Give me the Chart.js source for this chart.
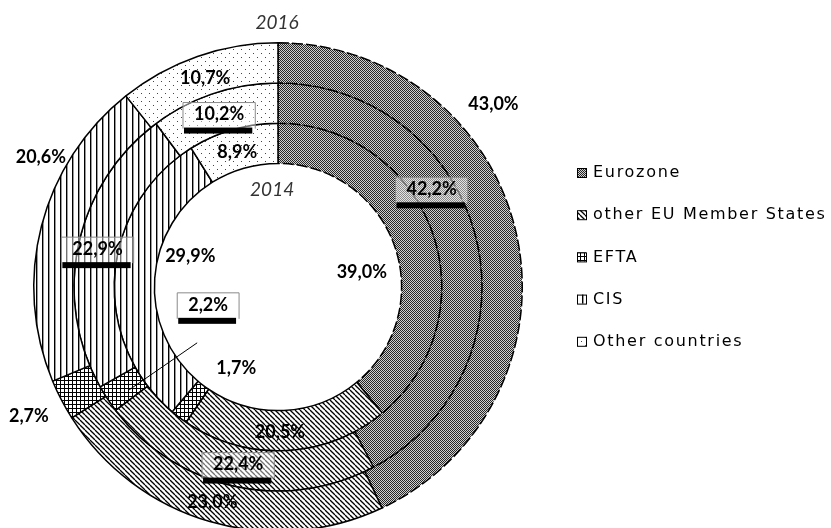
<!DOCTYPE html>
<html>
<head>
<meta charset="utf-8">
<script src="https://cdn.jsdelivr.net/npm/chart.js@4/dist/chart.umd.min.js"></script>
<style>
  html, body { margin: 0; padding: 0; background: #fff; overflow: hidden; }
  #wrap { position: relative; width: 831px; height: 540px; }
</style>
</head>
<body>
<div id="wrap"><canvas id="chart"></canvas></div>
<script>
// Values (outer ring = 2016, inner ring = 2014)
const categories = ['Eurozone', 'other EU Member States', 'EFTA', 'CIS', 'Other countries'];
const years = ['2016', '2015', '2014'];
const share2016 = [43.0, 23.0, 2.7, 20.6, 10.7];
const share2015 = [42.2, 22.4, 2.2, 22.9, 10.2];
const share2014 = [39.0, 20.5, 1.7, 29.9, 8.9];

// where the value labels sit, as offsets from the centre in units of the outer radius
const labelSpots = [
  [[0.882, -0.747], [-0.269, 0.882], [-1.020, 0.527], [-0.971, -0.531], [-0.298, -0.853]],
  [[0.629, -0.400], [-0.163, 0.727], [-0.286, 0.073], [-0.739, -0.155], [-0.241, -0.706]],
  [[0.343, -0.061], [0.008, 0.596], [-0.171, 0.331], [-0.359, -0.127], [-0.167, -0.551]]
];
const yearSpots = { '2016': [-0.004, -1.082], '2014': [-0.024, -0.396] };

/**
 * Build a small repeating canvas pattern
 */
function makePattern(w, h, draw) {
  const c = document.createElement('canvas');
  c.width = w;
  c.height = h;
  const g = c.getContext('2d');
  g.fillStyle = '#fff';
  g.fillRect(0, 0, w, h);
  draw(g);
  return g.createPattern(c, 'repeat');
}

const patterns = [
  // Eurozone: fine checker
  makePattern(2, 2, g => {
    g.fillStyle = '#cfcfcf';
    g.fillRect(0, 0, 2, 2);
    g.fillStyle = '#262626';
    g.fillRect(0, 0, 1, 1);
    g.fillRect(1, 1, 1, 1);
  }),
  // other EU: diagonal lines
  makePattern(5, 5, g => {
    g.strokeStyle = '#000';
    g.lineWidth = 1.3;
    [-5, 0, 5].forEach(c => {
      g.beginPath();
      g.moveTo(0, c);
      g.lineTo(5, 5 + c);
      g.stroke();
    });
  }),
  // EFTA: small grid
  makePattern(4, 4, g => {
    g.fillStyle = '#000';
    g.fillRect(0, 0, 4, 1);
    g.fillRect(0, 0, 1, 4);
  }),
  // CIS: vertical lines
  makePattern(6, 6, g => {
    g.fillStyle = '#000';
    g.fillRect(0, 0, 1.4, 6);
  }),
  // Other countries: sparse dots
  makePattern(8, 8, g => {
    g.fillStyle = '#444';
    g.fillRect(1, 1, 1, 1);
    g.fillRect(5, 5, 1, 1);
  })
];

function fmt(v) {
  return v.toFixed(1).replace('.', ',') + '%';
}

const labelPlugin = {
  id: 'ringLabels',
  afterDraw(chart) {
    const ctx = chart.ctx;
    const outer = chart.getDatasetMeta(0).data[0];
    const cx = outer.x, cy = outer.y, R = outer.outerRadius;
    ctx.save();
    ctx.textAlign = 'center';
    ctx.textBaseline = 'middle';

    // leader line for the 2015 EFTA label
    const efta = chart.getDatasetMeta(1).data[2].getCenterPoint();
    const eftaSpot = labelSpots[1][2];
    ctx.strokeStyle = '#000';
    ctx.lineWidth = 1;
    ctx.beginPath();
    ctx.moveTo(efta.x + 5, efta.y + 2);
    ctx.lineTo(cx + eftaSpot[0] * R - 11, cy + eftaSpot[1] * R + 38);
    ctx.stroke();

    chart.data.datasets.forEach((ds, di) => {
      ds.data.forEach((v, i) => {
        const [ux, uy] = labelSpots[di][i];
        const x = cx + ux * R, y = cy + uy * R;
        const text = fmt(v);
        ctx.font = 'bold 18px Lato';
        if (di === 1) {
          const w = ctx.measureText(text).width + 22;
          const left = x - w / 2;
          ctx.fillStyle = 'rgba(255,255,255,0.45)';
          ctx.fillRect(left, y - 12, w, 26);
          ctx.strokeStyle = '#8a8a8a';
          ctx.lineWidth = 1;
          ctx.beginPath();
          ctx.moveTo(left, y + 14);
          ctx.lineTo(left, y - 12);
          ctx.lineTo(left + w, y - 12);
          ctx.lineTo(left + w, y + 14);
          ctx.stroke();
          ctx.fillStyle = '#000';
          ctx.fillRect(left + 1, y + 13, w - 4, 6);
        }
        ctx.fillStyle = '#000';
        ctx.fillText(text, x, y);
      });
    });

    ctx.font = 'italic 19px Lato';
    ctx.fillStyle = '#333';
    Object.entries(yearSpots).forEach(([yr, [ux, uy]]) => {
      ctx.fillText(yr, cx + ux * R, cy + uy * R);
    });

    // legend
    ctx.textAlign = 'left';
    ctx.font = '16px "DejaVu Sans"';
    ctx.letterSpacing = '1.7px';
    categories.forEach((name, i) => {
      const y = 173 + i * 42.2;
      ctx.fillStyle = patterns[i];
      ctx.fillRect(577, y - 5, 9, 9);
      ctx.strokeStyle = '#000';
      ctx.lineWidth = 1;
      ctx.strokeRect(577.5, y - 4.5, 9, 9);
      ctx.fillStyle = '#000';
      ctx.fillText(name, 593, y);
    });
    ctx.restore();
  }
};

const datasetFor = (data, label) => ({
  label: label,
  data: data,
  backgroundColor: patterns,
  borderColor: '#000',
  borderWidth: 1.5,
  borderDash: c => (c.dataIndex === 0 ? [11, 3] : [])
});

new Chart(document.getElementById('chart'), {
  type: 'doughnut',
  data: {
    labels: categories,
    datasets: [
      datasetFor(share2016, years[0]),
      datasetFor(share2015, years[1]),
      datasetFor(share2014, years[2])
    ]
  },
  options: {
    responsive: true,
    maintainAspectRatio: false,
    animation: false,
    cutout: '50.6%',
    layout: { padding: { left: 33, top: 42, right: 308, bottom: 8 } },
    plugins: {
      legend: { display: false },
      tooltip: { enabled: false }
    }
  },
  plugins: [labelPlugin]
});
</script>
</body>
</html>
